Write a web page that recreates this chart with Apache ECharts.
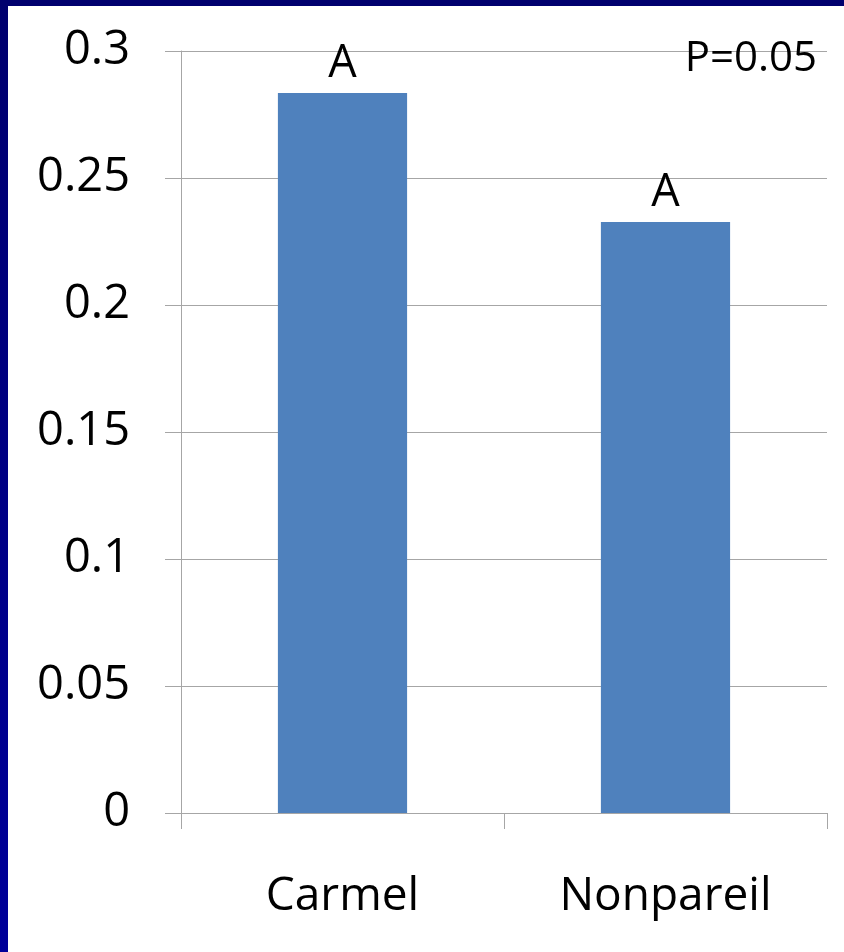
<!DOCTYPE html>
<html>
<head>
<meta charset="utf-8">
<script src="https://cdn.jsdelivr.net/npm/echarts@6/dist/echarts.min.js"></script>
<style>
html,body{margin:0;padding:0;background:#fff;}
#chart{width:844px;height:952px;}
</style>
</head>
<body>
<div id="chart"></div>
<script>
var categories = ['Carmel', 'Nonpareil'];
var values = [0.2835, 0.2327];
var letters = ['A', 'A'];
var pText = 'P=0.05';
var yMin = 0, yMax = 0.3, yStep = 0.05;

var font = '"Open Sans", "Noto Sans", sans-serif';
var chart = echarts.init(document.getElementById('chart'), null, {renderer: 'canvas'});
chart.setOption({
  animation: false,
  backgroundColor: '#ffffff',
  grid: {left: 181, right: 17, top: 51, bottom: 139, containLabel: false},
  xAxis: {
    type: 'category',
    data: categories,
    axisLine: {show: true, lineStyle: {color: '#a6a6a6', width: 1}},
    axisTick: {show: true, length: 16, lineStyle: {color: '#a6a6a6'}},
    axisLabel: {color: '#000', fontSize: 46, fontFamily: font, margin: 61}
  },
  yAxis: {
    type: 'value',
    min: yMin, max: yMax, interval: yStep,
    axisLine: {show: true, lineStyle: {color: '#a6a6a6', width: 1}},
    axisTick: {show: true, length: 16, lineStyle: {color: '#a6a6a6'}},
    splitLine: {show: true, lineStyle: {color: '#a6a6a6', width: 1}},
    axisLabel: {color: '#000', fontSize: 47, fontFamily: font, margin: 51}
  },
  series: [{
    type: 'bar',
    data: values,
    barWidth: '40%',
    itemStyle: {color: '#4f81bd'},
    label: {
      show: true,
      position: 'top',
      distance: 6,
      color: '#000',
      fontSize: 45,
      fontFamily: font,
      formatter: function (p) { return letters[p.dataIndex]; }
    }
  }],
  graphic: [
    {type: 'rect', shape: {x: 0, y: 0, width: 844, height: 6}, style: {fill: '#00006e'}, z: 100},
    {type: 'rect', shape: {x: 0, y: 0, width: 8, height: 952},
     style: {fill: new echarts.graphic.LinearGradient(0, 0, 0, 1, [{offset: 0, color: '#00006e'}, {offset: 1, color: '#00009a'}])}, z: 100},
    {type: 'text', right: 27, top: 38, style: {text: pText, fill: '#000', fontSize: 42, fontFamily: font}, z: 50}
  ]
});
</script>
</body>
</html>
